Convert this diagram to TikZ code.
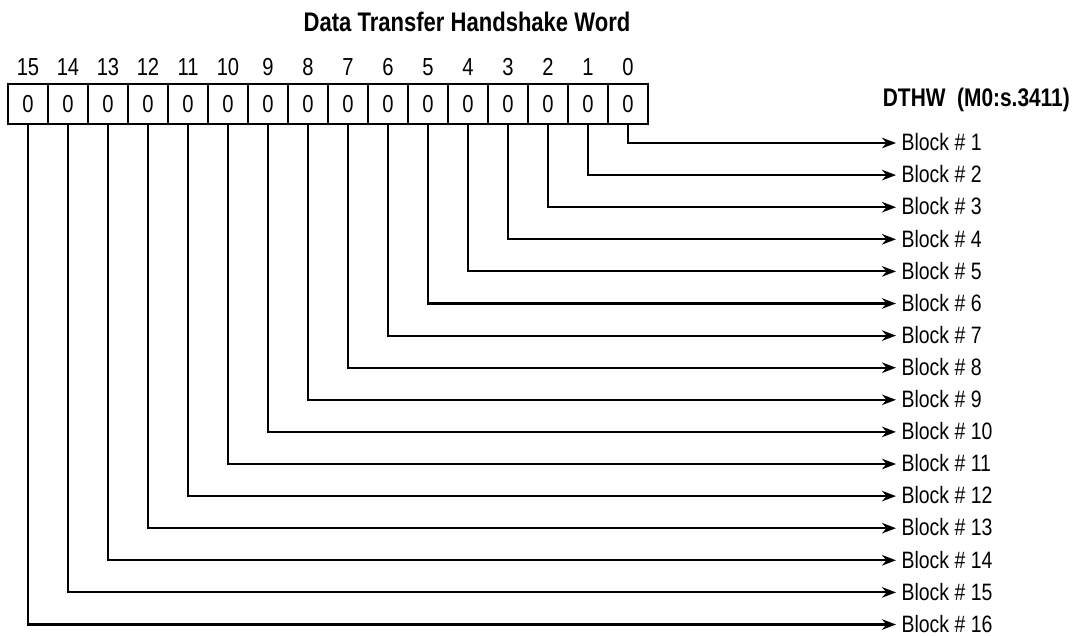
\documentclass[tikz,border=0pt]{standalone}
\usepackage{fontspec}
\setmainfont{Liberation Sans}[FakeStretch=0.82]
\usetikzlibrary{arrows.meta}
\begin{document}
\begin{tikzpicture}[x=0.02cm, y=-0.02cm,
	bitcell/.style={draw, rectangle, line width=1.2pt, minimum width=0.8cm, minimum height=0.8cm, inner sep=0pt, font=\fontsize{14}{16}\selectfont},
	bitnum/.style={inner sep=0pt, font=\fontsize{14}{16}\selectfont},
	blocklabel/.style={anchor=base west, inner sep=0pt, font=\fontsize{13.5}{15}\selectfont},
	link/.style={line width=1.2pt, -{Stealth[length=8pt, width=6pt]}}]
	\useasboundingbox (0,0) rectangle (1083,636);

	% Title
	\node[font=\bfseries\fontsize{15.3}{17}\selectfont] (title) at (467,22) {Data Transfer Handshake Word};

	% Word address
	\node[anchor=east, font=\bfseries\fontsize{14.5}{16}\selectfont] (dthw) at (1076,100) {DTHW\ \ (M0:s.3411)};

	% Bits, their numbers and the block each one flags
	\foreach \b in {0,...,15} {
		\pgfmathsetmacro\cx{628-40*\b}
		\pgfmathsetmacro\ty{143+32.1*\b}
		\pgfmathtruncatemacro\blk{\b+1}
		\node[bitcell] (cell\b) at (\cx,104) {0};
		\node[bitnum] (num\b) at (\cx,67) {\b};
		\coordinate (tip\b) at (896,\ty);
		\draw[link] (cell\b.south) |- (tip\b);
		\node[blocklabel] (block\b) at ([xshift=3pt, yshift=-4.4pt]tip\b) {Block \# \blk};
	}
\end{tikzpicture}
\end{document}
